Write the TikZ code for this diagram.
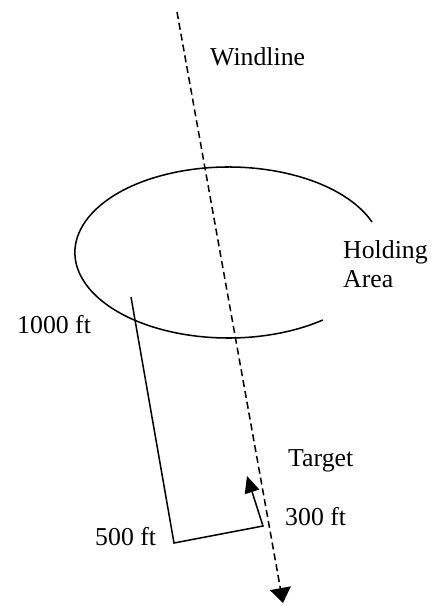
\documentclass[tikz,border=0pt]{standalone}
\usepackage{fontspec}
\setmainfont{Liberation Serif}
\usepackage{tikz}
\usetikzlibrary{arrows.meta}

\begin{document}
\begin{tikzpicture}[
  x=0.03cm, y=0.03cm,
  lbl/.style={inner sep=0pt,anchor=base west,font=\fontsize{22}{24.7}\selectfont},
  wind/.style={line width=1.3pt,dash pattern=on 0.21cm off 0.12cm,
               -{Triangle[length=0.45cm,width=0.63cm]}},
  hold/.style={line width=1.3pt},
  leg/.style={line width=1.3pt,-{Triangle[length=0.5cm,width=0.45cm]}}
]
\useasboundingbox (0,0) rectangle (431,-605);
\coordinate (windtop) at (177,-12);
\coordinate (windend) at (283,-603);
\coordinate (holdstart) at (372,-222);
\coordinate (downwind) at (131,-297);
\coordinate (basecorner) at (174,-543);
\coordinate (finalturn) at (263,-526);
\coordinate (target) at (247,-476);

\node[lbl] (windlbl) at (210,-65) {Windline};
\node[lbl] (holdlbl) at (343,-258) {Holding};
\node[lbl] (arealbl) at (343,-287) {Area};
\node[lbl] (altlbl)  at (17,-333)  {1000 ft};
\node[lbl] (tgtlbl)  at (288,-466) {Target};
\node[lbl] (finlbl)  at (285,-525) {300 ft};
\node[lbl] (baselbl) at (95,-545)  {500 ft};

\draw[hold] (holdstart) arc[start angle=20.9,end angle=307.9,
  x radius=4.608cm,y radius=2.565cm];
\draw[wind] (windtop)--(windend);
\draw[leg] (downwind)--(basecorner)--(finalturn)--(target);
\end{tikzpicture}
\end{document}
